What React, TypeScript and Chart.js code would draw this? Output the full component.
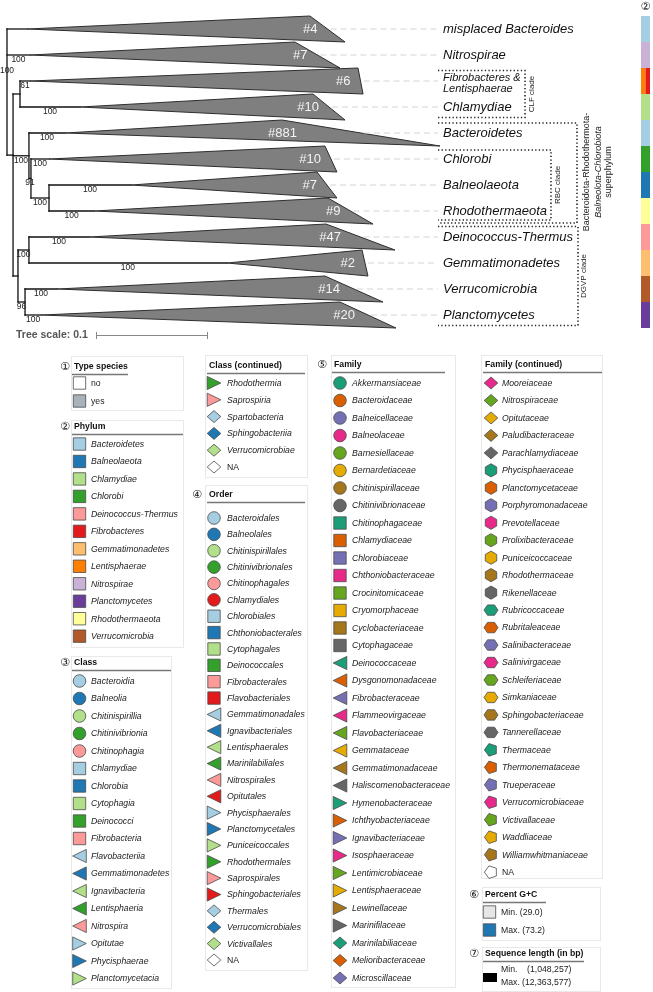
import React, { useEffect, useRef } from 'react';
import { Chart, registerables } from 'chart.js';

Chart.register(...registerables);

const SANS = "'Liberation Sans', Arial, Helvetica, sans-serif";
const SYM = "'DejaVu Sans', 'Noto Sans CJK SC', sans-serif";

// ---------------- tree data (branch depths in substitutions/site) ----------------
const cladeLabels = [
  'misplaced Bacteroides', 'Nitrospirae', 'Fibrobacteres &\nLentisphaerae', 'Chlamydiae',
  'Bacteroidetes', 'Chlorobi', 'Balneolaeota', 'Rhodothermaeota',
  'Deinococcus-Thermus', 'Gemmatimonadetes', 'Verrucomicrobia', 'Planctomycetes',
];
const cladeSizes = [4, 7, 6, 10, 881, 10, 7, 9, 47, 2, 14, 20];
const cladeParent = ['R', 'R', 'CLF', 'CLF', 'A', 'B', 'C', 'C', 'E', 'E', 'F', 'F'];
const cladeStem = [0.0179, 0.0205, 0.0205, 0.0652, 0.0518, 0.0375, 0.1107, 0.0777, 0.0732, 0.1964, 0.0446, 0.0304];
const cladeMin = [0.2705, 0.2571, 0.3134, 0.2732, 0.2455, 0.2839, 0.2768, 0.2866, 0.2848, 0.317, 0.2839, 0.2973];
const cladeMax = [0.3018, 0.2973, 0.3179, 0.3018, 0.3866, 0.2946, 0.2946, 0.3268, 0.3464, 0.3223, 0.3357, 0.3473];
const cladeSupport = [null, 100, 61, 100, 100, 100, 100, 100, 100, 100, 100, 100];

const nodeIds = ['R', 'N2', 'CLF', 'A', 'B', 'C', 'D', 'E', 'F'];
const nodeParent = [null, 'R', 'N2', 'N2', 'A', 'B', 'N2', 'D', 'D'];
const nodeDepth = [0, 0.0054, 0.0116, 0.0196, 0.0214, 0.0375, 0.0098, 0.0196, 0.0161];
const nodeSupport = [100, null, null, 100, 91, 100, null, 100, 96];
const nodeRow = [null, 4.85, null, null, null, null, null, null, null];

const treeScaleValue = 0.1;

// colour strip (phylum of each clade)
const stripPhyla = [
  ['Bacteroidetes'], ['Nitrospirae'], ['Lentisphaerae', 'Fibrobacteres'], ['Chlamydiae'],
  ['Bacteroidetes'], ['Chlorobi'], ['Balneolaeota'], ['Rhodothermaeota'],
  ['Deinococcus-Thermus'], ['Gemmatimonadetes'], ['Verrucomicrobia'], ['Planctomycetes'],
];

// clade brackets
const groupLabels = ['CLF clade', 'RBC clade', 'Bacteroidota-Rhodothermota-\nBalneolota-Chlorobiota\nsuperphylum', 'DGVP clade'];
const groupFirst = [2, 5, 4, 8];
const groupLast = [3, 7, 7, 11];

// ---------------- legend data ----------------
const typeSpeciesLabels = ['no', 'yes'];
const typeSpeciesColors = ['#ffffff', '#a8b2bb'];
const phylumLabels = ['Bacteroidetes', 'Balneolaeota', 'Chlamydiae', 'Chlorobi', 'Deinococcus-Thermus', 'Fibrobacteres',
  'Gemmatimonadetes', 'Lentisphaerae', 'Nitrospirae', 'Planctomycetes', 'Rhodothermaeota', 'Verrucomicrobia'];
const phylumColors = ['#a6cee3', '#1f78b4', '#b2df8a', '#33a02c', '#fb9a99', '#e31a1c',
  '#fdbf6f', '#ff7f00', '#cab2d6', '#6a3d9a', '#ffff99', '#b15928'];
const classLabels = ['Bacteroidia', 'Balneolia', 'Chitinispirillia', 'Chitinivibrionia', 'Chitinophagia',
  'Chlamydiae', 'Chlorobia', 'Cytophagia', 'Deinococci', 'Fibrobacteria',
  'Flavobacteriia', 'Gemmatimonadetes', 'Ignavibacteria', 'Lentisphaeria', 'Nitrospira',
  'Opitutae', 'Phycisphaerae', 'Planctomycetacia', 'Rhodothermia', 'Saprospiria',
  'Spartobacteria', 'Sphingobacteriia', 'Verrucomicrobiae'];
const orderLabels = ['Bacteroidales', 'Balneolales', 'Chitinispirillales', 'Chitinivibrionales', 'Chitinophagales', 'Chlamydiales',
  'Chlorobiales', 'Chthoniobacterales', 'Cytophagales', 'Deinococcales', 'Fibrobacterales', 'Flavobacteriales',
  'Gemmatimonadales', 'Ignavibacteriales', 'Lentisphaerales', 'Marinilabiliales', 'Nitrospirales', 'Opitutales',
  'Phycisphaerales', 'Planctomycetales', 'Puniceicoccales', 'Rhodothermales', 'Saprospirales', 'Sphingobacteriales',
  'Thermales', 'Verrucomicrobiales', 'Victivallales'];
const familyLabels = ['Akkermansiaceae', 'Bacteroidaceae', 'Balneicellaceae', 'Balneolaceae', 'Barnesiellaceae', 'Bernardetiaceae',
  'Chitinispirillaceae', 'Chitinivibrionaceae', 'Chitinophagaceae', 'Chlamydiaceae', 'Chlorobiaceae', 'Chthoniobacteraceae',
  'Crocinitomicaceae', 'Cryomorphaceae', 'Cyclobacteriaceae', 'Cytophagaceae', 'Deinococcaceae', 'Dysgonomonadaceae',
  'Fibrobacteraceae', 'Flammeovirgaceae', 'Flavobacteriaceae', 'Gemmataceae', 'Gemmatimonadaceae', 'Haliscomenobacteraceae',
  'Hymenobacteraceae', 'Ichthyobacteriaceae', 'Ignavibacteriaceae', 'Isosphaeraceae', 'Lentimicrobiaceae', 'Lentisphaeraceae',
  'Lewinellaceae', 'Marinifilaceae', 'Marinilabiliaceae', 'Melioribacteraceae', 'Microscillaceae',
  'Mooreiaceae', 'Nitrospiraceae', 'Opitutaceae', 'Paludibacteraceae', 'Parachlamydiaceae', 'Phycisphaeraceae',
  'Planctomycetaceae', 'Porphyromonadaceae', 'Prevotellaceae', 'Prolixibacteraceae', 'Puniceicoccaceae', 'Rhodothermaceae',
  'Rikenellaceae', 'Rubricoccaceae', 'Rubritaleaceae', 'Salinibacteraceae', 'Salinivirgaceae', 'Schleiferiaceae',
  'Simkaniaceae', 'Sphingobacteriaceae', 'Tannerellaceae', 'Thermaceae', 'Thermonemataceae', 'Trueperaceae',
  'Verrucomicrobiaceae', 'Victivallaceae', 'Waddliaceae', 'Williamwhitmaniaceae'];
const gcLabels = ['Min. (29.0)', 'Max. (73.2)'];
const gcColors = ['#e6e6e6', '#1f78b4'];
const seqLenNames = ['Min.', 'Max.'];
const seqLenValues = ['(1,048,257)', '(12,363,577)'];

const PAL5 = ['#a6cee3', '#1f78b4', '#b2df8a', '#33a02c', '#fb9a99'];
const PAL6 = ['#a6cee3', '#1f78b4', '#b2df8a', '#33a02c', '#fb9a99', '#e31a1c'];
const PAL8 = ['#1b9e77', '#d95f02', '#7570b3', '#e7298a', '#66a61e', '#e6ab02', '#a6761d', '#666666'];
const SHAPES = ['circle', 'square', 'triLeft', 'triRight', 'diamond', 'hexV', 'hexH', 'pentagon'];

type Item = { label: string; shape: string; color: string; italic: boolean };

function paletteItems(labels: string[], pal: string[], naShape: string): Item[] {
  const out: Item[] = labels.map((l, i) => ({
    label: l, shape: SHAPES[Math.floor(i / pal.length)], color: pal[i % pal.length], italic: true,
  }));
  out.push({ label: 'NA', shape: naShape, color: '#ffffff', italic: false });
  return out;
}

function shapePath(ctx: CanvasRenderingContext2D, shape: string, cx: number, cy: number) {
  ctx.beginPath();
  if (shape === 'circle') ctx.arc(cx, cy, 6.3, 0, Math.PI * 2);
  else if (shape === 'square') ctx.rect(cx - 6.2, cy - 6.2, 12.4, 12.4);
  else if (shape === 'triLeft') { ctx.moveTo(cx - 6.8, cy); ctx.lineTo(cx + 6.8, cy - 6.6); ctx.lineTo(cx + 6.8, cy + 6.6); ctx.closePath(); }
  else if (shape === 'triRight') { ctx.moveTo(cx + 6.8, cy); ctx.lineTo(cx - 6.8, cy - 6.6); ctx.lineTo(cx - 6.8, cy + 6.6); ctx.closePath(); }
  else if (shape === 'diamond') { ctx.moveTo(cx, cy - 6); ctx.lineTo(cx + 6.8, cy); ctx.lineTo(cx, cy + 6); ctx.lineTo(cx - 6.8, cy); ctx.closePath(); }
  else {
    const n = shape === 'pentagon' ? 5 : 6;
    const a0 = shape === 'hexV' ? -Math.PI / 2 : shape === 'hexH' ? 0 : Math.PI;
    const rx = shape === 'hexH' ? 7 : 6.6;
    const ry = shape === 'hexH' ? 6 : 6.6;
    for (let k = 0; k < n; k++) {
      const a = a0 + (k * 2 * Math.PI) / n;
      const x = cx + rx * Math.cos(a), y = cy + ry * Math.sin(a);
      if (k === 0) ctx.moveTo(x, y); else ctx.lineTo(x, y);
    }
    ctx.closePath();
  }
}

type Legend = {
  items: Item[]; badge?: string; badgeX?: number; box: number[]; title: string; titleX: number; titleY: number;
  ulEnd: number; swX: number; textX: number; y0: number; step: number;
};

function buildLegends(): Legend[] {
  const sq = (labels: string[], colors: string[], italic: boolean): Item[] =>
    labels.map((l, i) => ({ label: l, shape: 'square', color: colors[i], italic }));
  const cls = paletteItems(classLabels, PAL5, 'diamond');
  const ord = paletteItems(orderLabels, PAL6, 'diamond');
  const fam = paletteItems(familyLabels, PAL8, 'pentagon');
  return [
    { items: sq(typeSpeciesLabels, typeSpeciesColors, false), badge: '①', badgeX: 65, box: [71, 356, 183, 410], title: 'Type species', titleX: 74, titleY: 367, ulEnd: 128, swX: 79.5, textX: 91, y0: 383, step: 18 },
    { items: sq(phylumLabels, phylumColors, true), badge: '②', badgeX: 65, box: [71, 420, 183, 647], title: 'Phylum', titleX: 74, titleY: 427, ulEnd: 183, swX: 79.5, textX: 91, y0: 444, step: 17.47 },
    { items: cls.slice(0, 18), badge: '③', badgeX: 65, box: [71, 656, 171, 988], title: 'Class', titleX: 74, titleY: 663, ulEnd: 171, swX: 79.5, textX: 91, y0: 681, step: 17.5 },
    { items: cls.slice(18), box: [205, 355, 307, 477], title: 'Class (continued)', titleX: 209, titleY: 366, ulEnd: 305, swX: 214, textX: 227, y0: 383, step: 16.8 },
    { items: ord, badge: '④', badgeX: 197, box: [205, 485, 307, 970], title: 'Order', titleX: 209, titleY: 495, ulEnd: 305, swX: 214, textX: 227, y0: 518, step: 16.37 },
    { items: fam.slice(0, 35), badge: '⑤', badgeX: 322, box: [331, 355, 455, 987], title: 'Family', titleX: 334, titleY: 365, ulEnd: 445, swX: 340, textX: 352, y0: 383, step: 17.5 },
    { items: fam.slice(35), box: [481, 355, 602, 878], title: 'Family (continued)', titleX: 485, titleY: 365, ulEnd: 602, swX: 491, textX: 502, y0: 383, step: 17.47 },
    { items: sq(gcLabels, gcColors, false), badge: '⑥', badgeX: 474, box: [482, 887, 600, 940], title: 'Percent G+C', titleX: 485, titleY: 895, ulEnd: 546, swX: 489.5, textX: 501, y0: 912, step: 18 },
  ];
}

function drawBadge(ctx: CanvasRenderingContext2D, s: string, x: number, y: number) {
  ctx.font = `11px ${SYM}`;
  ctx.fillStyle = '#111';
  ctx.textAlign = 'center';
  ctx.textBaseline = 'middle';
  ctx.fillText(s, x, y + 0.5);
}

function drawLegendFrame(ctx: CanvasRenderingContext2D, box: number[], title: string, tx: number, ty: number, ulEnd: number, badge?: string, badgeX?: number) {
  ctx.fillStyle = '#ffffff';
  ctx.fillRect(box[0], box[1], box[2] - box[0], box[3] - box[1]);
  ctx.strokeStyle = '#e9e9e9';
  ctx.lineWidth = 1;
  ctx.setLineDash([]);
  ctx.strokeRect(box[0] + 0.5, box[1] + 0.5, box[2] - box[0], box[3] - box[1]);
  if (badge) drawBadge(ctx, badge, badgeX as number, ty);
  ctx.font = `bold 8.7px ${SANS}`;
  ctx.fillStyle = '#111';
  ctx.textAlign = 'left';
  ctx.textBaseline = 'middle';
  ctx.fillText(title, tx, ty);
  ctx.strokeStyle = '#777';
  ctx.lineWidth = 1.5;
  ctx.beginPath();
  ctx.moveTo(tx - 2, ty + 7.5);
  ctx.lineTo(ulEnd, ty + 7.5);
  ctx.stroke();
}

function drawLegend(ctx: CanvasRenderingContext2D, L: Legend) {
  drawLegendFrame(ctx, L.box, L.title, L.titleX, L.titleY, L.ulEnd, L.badge, L.badgeX);
  L.items.forEach((it, k) => {
    const y = L.y0 + k * L.step;
    shapePath(ctx, it.shape, L.swX, y);
    ctx.fillStyle = it.color;
    ctx.fill();
    ctx.strokeStyle = '#4a4a4a';
    ctx.lineWidth = 0.8;
    ctx.stroke();
    ctx.font = `${it.italic ? 'italic ' : ''}8.7px ${SANS}`;
    ctx.fillStyle = '#222';
    ctx.textAlign = 'left';
    ctx.textBaseline = 'middle';
    ctx.fillText(it.label, L.textX, y + 0.5);
  });
}

function buildTree() {
  const depth: Record<string, number> = {};
  const row: Record<string, number> = {};
  const children: Record<string, string[]> = {};
  const parentOf: Record<string, string> = {};
  cladeLabels.forEach((_, i) => {
    const id = 'L' + i;
    depth[id] = cladeStem[i];
    row[id] = i;
    (children[cladeParent[i]] ||= []).push(id);
    parentOf[id] = cladeParent[i];
  });
  nodeIds.forEach((id, k) => {
    depth[id] = nodeDepth[k];
    const p = nodeParent[k];
    if (p) { (children[p] ||= []).push(id); parentOf[id] = p; }
  });
  const getRow = (id: string): number => {
    if (row[id] !== undefined) return row[id];
    const k = nodeIds.indexOf(id);
    const ys = children[id].map(getRow);
    const ov = nodeRow[k];
    row[id] = ov !== null && ov !== undefined ? ov : (Math.min(...ys) + Math.max(...ys)) / 2;
    return row[id];
  };
  nodeIds.forEach(getRow);
  return { depth, row, children, parentOf };
}

function makeConfig(): any {
  const T = buildTree();
  const datasets: any[] = [];
  // collapsed clades
  cladeLabels.forEach((_, i) => {
    datasets.push({
      data: [
        { x: cladeStem[i], y: i }, { x: cladeMin[i], y: i - 0.5 },
        { x: cladeMax[i], y: i + 0.5 }, { x: cladeStem[i], y: i },
      ],
      borderColor: '#2e2e2e', borderWidth: 1, backgroundColor: '#7f7f7f', fill: 'shape',
      pointRadius: 0, clip: false, borderJoinStyle: 'miter',
    });
  });
  const seg = (x1: number, y1: number, x2: number, y2: number) => datasets.push({
    data: [{ x: x1, y: y1 }, { x: x2, y: y2 }], borderColor: '#111', borderWidth: 1.3,
    pointRadius: 0, fill: false, clip: false, borderCapStyle: 'square',
  });
  // verticals
  nodeIds.forEach((id) => {
    const ys = T.children[id].map((c) => T.row[c]);
    seg(T.depth[id], Math.min(...ys), T.depth[id], Math.max(...ys));
  });
  // horizontals
  Object.keys(T.parentOf).forEach((id) => {
    seg(T.depth[T.parentOf[id]], T.row[id], T.depth[id], T.row[id]);
  });

  const decor = {
    id: 'decor',
    afterDraw(chart: any) {
      const ctx: CanvasRenderingContext2D = chart.ctx;
      const xs = chart.scales.x, ys = chart.scales.y;
      const px = (v: number) => xs.getPixelForValue(v);
      const py = (v: number) => ys.getPixelForValue(v);
      ctx.save();
      const labelX = 443;

      // dashed guides
      ctx.strokeStyle = '#d4d4d4';
      ctx.lineWidth = 1;
      ctx.setLineDash([6, 4]);
      cladeLabels.forEach((_, i) => {
        const sx = px((cladeMin[i] + cladeMax[i]) / 2) + 3;
        if (sx < labelX - 6) {
          ctx.beginPath();
          ctx.moveTo(sx, py(i));
          ctx.lineTo(labelX - 5, py(i));
          ctx.stroke();
        }
      });
      ctx.setLineDash([]);

      // clade size labels
      ctx.font = `13px ${SANS}`;
      ctx.fillStyle = '#f4f4f4';
      ctx.textAlign = 'right';
      ctx.textBaseline = 'middle';
      cladeSizes.forEach((n, i) => {
        const xr = Math.min(px((cladeMin[i] + cladeMax[i]) / 2) - 10, px(cladeMin[i]) + 15);
        ctx.fillText('#' + n, xr, py(i) + 0.5);
      });

      // support values
      ctx.font = `8.5px ${SANS}`;
      ctx.fillStyle = '#222';
      ctx.textAlign = 'center';
      cladeSupport.forEach((s, i) => {
        if (s === null) return;
        const mx = (px(T.depth[cladeParent[i]]) + px(cladeStem[i])) / 2;
        ctx.fillText(String(s), mx, py(i) + 4.5);
      });
      nodeSupport.forEach((s, k) => {
        if (s === null) return;
        const id = nodeIds[k];
        const p = nodeParent[k];
        if (!p) { ctx.fillText(String(s), px(T.depth[id]), py(1.6)); return; }
        const mx = (px(T.depth[p]) + px(T.depth[id])) / 2;
        ctx.fillText(String(s), mx, py(T.row[id]) + 4.5);
      });

      // leaf labels
      ctx.fillStyle = '#111';
      ctx.textAlign = 'left';
      cladeLabels.forEach((lab, i) => {
        const lines = lab.split('\n');
        if (lines.length === 1) {
          ctx.font = `italic 13px ${SANS}`;
          ctx.fillText(lab, labelX, py(i) + 0.5);
        } else {
          ctx.font = `italic 11px ${SANS}`;
          ctx.fillText(lines[0], labelX, py(i) - 3);
          ctx.fillText(lines[1], labelX, py(i) + 7.5);
        }
      });

      // clade brackets
      const bRight = [525, 551, 577, 578];
      const bInset = [2.5, 4, 3, 2.5];
      const bText = [531.5, 558, 587, 584];
      ctx.strokeStyle = '#222';
      ctx.lineWidth = 1.6;
      ctx.setLineDash([1.3, 2.3]);
      groupLabels.forEach((_, g) => {
        const top = py(groupFirst[g] - 0.5) + bInset[g];
        const bot = py(groupLast[g] + 0.5) - bInset[g] + (g === 2 ? 2 : 0);
        ctx.beginPath();
        ctx.moveTo(438, top); ctx.lineTo(bRight[g], top); ctx.lineTo(bRight[g], bot); ctx.lineTo(438, bot);
        ctx.stroke();
      });
      ctx.setLineDash([]);
      ctx.fillStyle = '#222';
      ctx.textAlign = 'center';
      groupLabels.forEach((lab, g) => {
        const cy = (py(groupFirst[g] - 0.5) + py(groupLast[g] + 0.5)) / 2 + (g === 2 ? 0 : 0);
        const lines = lab.split('\n');
        lines.forEach((ln, j) => {
          ctx.save();
          ctx.translate(bText[g] + j * 11, cy);
          ctx.rotate(-Math.PI / 2);
          ctx.font = lines.length > 1 ? `${j === 1 ? 'italic ' : ''}9px ${SANS}` : `8px ${SANS}`;
          ctx.fillText(ln, 0, 0);
          ctx.restore();
        });
      });

      // phylum colour strip
      const sx0 = 641, sx1 = 650;
      stripPhyla.forEach((ph, i) => {
        const y0 = py(i - 0.5), y1 = py(i + 0.5);
        const w = (sx1 - sx0) / ph.length;
        ph.forEach((p, j) => {
          ctx.fillStyle = phylumColors[phylumLabels.indexOf(p)];
          ctx.fillRect(sx0 + j * w, y0, w, y1 - y0);
        });
      });
      drawBadge(ctx, '②', 645.5, 7);

      // tree scale
      ctx.font = `bold 10.5px ${SANS}`;
      ctx.fillStyle = '#555';
      ctx.textAlign = 'left';
      ctx.textBaseline = 'middle';
      ctx.fillText('Tree scale: ' + treeScaleValue, 16, 335);
      const bx0 = 96, bx1 = bx0 + (px(treeScaleValue) - px(0));
      ctx.strokeStyle = '#888';
      ctx.lineWidth = 1;
      ctx.beginPath();
      ctx.moveTo(bx0, 335.5); ctx.lineTo(bx1, 335.5);
      ctx.moveTo(bx0 + 0.5, 332); ctx.lineTo(bx0 + 0.5, 339);
      ctx.moveTo(bx1 - 0.5, 332); ctx.lineTo(bx1 - 0.5, 339);
      ctx.stroke();

      // legends
      buildLegends().forEach((L) => drawLegend(ctx, L));

      // sequence length legend
      drawLegendFrame(ctx, [482, 947, 600, 991], 'Sequence length (in bp)', 485, 954, 584, '⑦', 474);
      ctx.fillStyle = '#000';
      ctx.fillRect(483, 973, 14, 9);
      ctx.font = `8.7px ${SANS}`;
      ctx.fillStyle = '#222';
      ctx.textAlign = 'left';
      ctx.textBaseline = 'middle';
      ctx.fillText(seqLenNames[0], 501, 970);
      ctx.fillText(seqLenValues[0], 527, 970);
      ctx.fillText(seqLenNames[1], 501, 983);
      ctx.fillText(seqLenValues[1], 522, 983);

      ctx.restore();
    },
  };

  return {
    type: 'line',
    data: { datasets },
    options: {
      animation: false,
      responsive: false,
      devicePixelRatio: 1,
      events: [],
      layout: { padding: { left: 7, right: 3, top: 16, bottom: 664 } },
      scales: {
        x: { type: 'linear', min: 0, max: 643 / 1120, display: false },
        y: { type: 'linear', min: -0.5, max: 11.5, reverse: true, display: false },
      },
      plugins: { legend: { display: false }, tooltip: { enabled: false } },
      elements: { point: { radius: 0 }, line: { tension: 0 } },
    },
    plugins: [decor],
  };
}

export default function App() {
  const ref = useRef<HTMLCanvasElement>(null);
  useEffect(() => {
    const chart = new Chart(ref.current as HTMLCanvasElement, makeConfig());
    return () => chart.destroy();
  }, []);
  return (
    <div style={{ position: 'absolute', left: 0, top: 0, width: 653, height: 992, background: '#fff' }}>
      <canvas ref={ref} width={653} height={992} style={{ display: 'block' }} />
    </div>
  );
}
